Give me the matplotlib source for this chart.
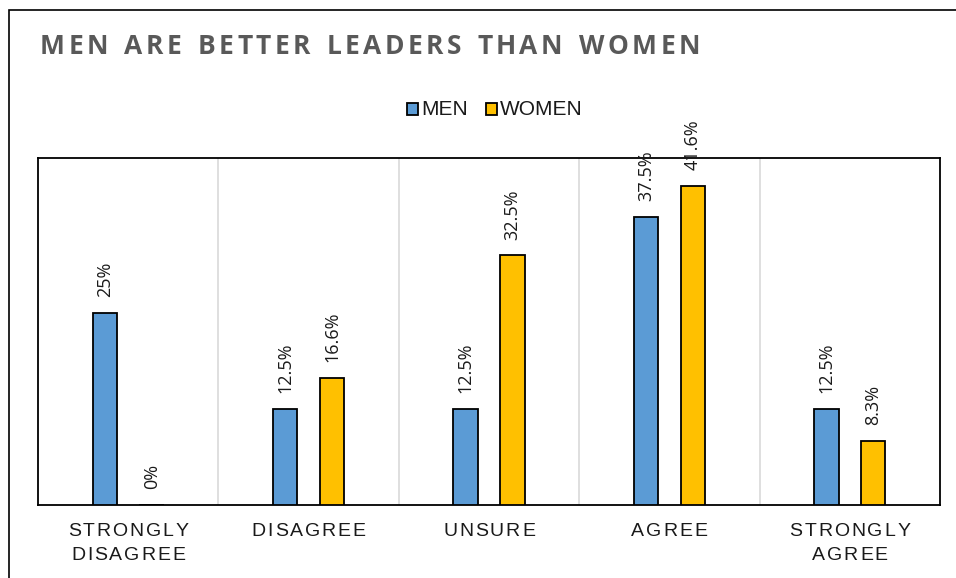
import numpy as np
import matplotlib
matplotlib.use('Agg')
import matplotlib.pyplot as plt
from matplotlib.patches import Rectangle
from matplotlib.transforms import offset_copy

# data
categories = [['STRONGLY', 'DISAGREE'], ['DISAGREE'], ['UNSURE'], ['AGREE'], ['STRONGLY', 'AGREE']]
men = [25, 12.5, 12.5, 37.5, 12.5]
women = [0, 16.6, 32.5, 41.6, 8.3]
men_labels = ['25%', '12.5%', '12.5%', '37.5%', '12.5%']
women_labels = ['0%', '16.6%', '32.5%', '41.6%', '8.3%']
title = 'MEN ARE BETTER LEADERS THAN WOMEN'

BLUE = '#5B9BD5'
GOLD = '#FFC000'
W, H = 956, 578

fig = plt.figure(figsize=(9.56, 5.78), dpi=100)
ax = fig.add_axes([38 / W, 1 - 505 / H, 902 / W, 347 / H])
renderer = fig.canvas.get_renderer()


def char_widths(s, **kw):
    ws = []
    for ch in s:
        t = fig.text(0, 0, ch if ch != ' ' else 'n', **kw)
        ws.append(t.get_window_extent(renderer).width * (0.55 if ch == ' ' else 1))
        t.remove()
    return ws


def spaced_text(x, y, s, spacing, transform, ha='center', target=None, **kw):
    # draw text one char at a time with extra tracking (pixels)
    widths = char_widths(s, **kw)
    if target is not None:
        spacing = (target - sum(widths)) / (len(s) - 1)
    total = sum(widths) + spacing * (len(s) - 1)
    pos = {'center': -total / 2, 'left': 0, 'right': -total}[ha]
    for ch, w in zip(s, widths):
        tr = offset_copy(transform, fig=fig, x=pos * 72 / fig.dpi, y=0, units='points')
        fig.text(x, y, ch, transform=tr, ha='left', **kw)
        pos += w + spacing


x = np.arange(len(men))
w = 0.135
off = 0.13
ax.bar(x - off, men, w, color=BLUE, edgecolor='black', linewidth=1.3, zorder=3)
ax.bar(x + off, women, w, color=GOLD, edgecolor='black', linewidth=1.3, zorder=3)

lab_font = ['Open Sans', 'DejaVu Sans']
for xi, v, lab in zip(x - off, men, men_labels):
    ax.annotate(lab, (xi, v), xytext=(0, 11.5), textcoords='offset points',
                rotation=90, ha='center', va='bottom', fontsize=13,
                family=lab_font, color='#1a1a1a', annotation_clip=False)
for xi, v, lab in zip(x + off, women, women_labels):
    ax.annotate(lab, (xi, v), xytext=(0, 11.5), textcoords='offset points',
                rotation=90, ha='center', va='bottom', fontsize=13,
                family=lab_font, color='#1a1a1a', annotation_clip=False)

ax.set_xlim(-0.5, 4.5)
ax.set_ylim(0, 45.2)
ax.set_yticks([])
ax.set_xticks([])
for b in [0.5, 1.5, 2.5, 3.5]:
    ax.axvline(b, color='#D9D9D9', linewidth=1.2, zorder=1)
for sp in ax.spines.values():
    sp.set_color('black')
    sp.set_linewidth(1.3)

# category labels
tick_kw = dict(fontsize=14, family=['Liberation Sans', 'DejaVu Sans'], color='#1a1a1a', va='center')
line_y = [531.5, 555.5]
for i, lines in enumerate(categories):
    xf = ax.transData.transform((i, 0))[0] / W
    for j, line in enumerate(lines):
        spaced_text(xf, 1 - line_y[j] / H, line, 1.9, fig.transFigure, **tick_kw)

# title
spaced_text(40 / W, 1 - 47 / H, title, 3.5, fig.transFigure, ha='left', target=660,
            fontsize=19, fontweight='bold', family=['Open Sans', 'DejaVu Sans'],
            color='#595959', va='center')

# legend
leg_font = ['Liberation Sans', 'DejaVu Sans']
items = [(407, BLUE, 'MEN'), (486, GOLD, 'WOMEN')]
for px, col, lab in items:
    fig.patches.append(Rectangle((px / W, 1 - 115 / H), 11 / W, 12 / H,
                                 transform=fig.transFigure, facecolor=col,
                                 edgecolor='black', linewidth=1.3))
    fig.text((px + 14) / W, 1 - 109.5 / H, lab, fontsize=15, family=leg_font,
             va='center', ha='left', color='#1a1a1a')

# outer chart border (partially cropped)
fig.patches.append(Rectangle((9 / W, -0.1), 1.2, 1 - 10 / H + 0.1,
                             transform=fig.transFigure, fill=False,
                             edgecolor='black', linewidth=1.2, clip_on=False))

fig.savefig('out.png', dpi=100)
